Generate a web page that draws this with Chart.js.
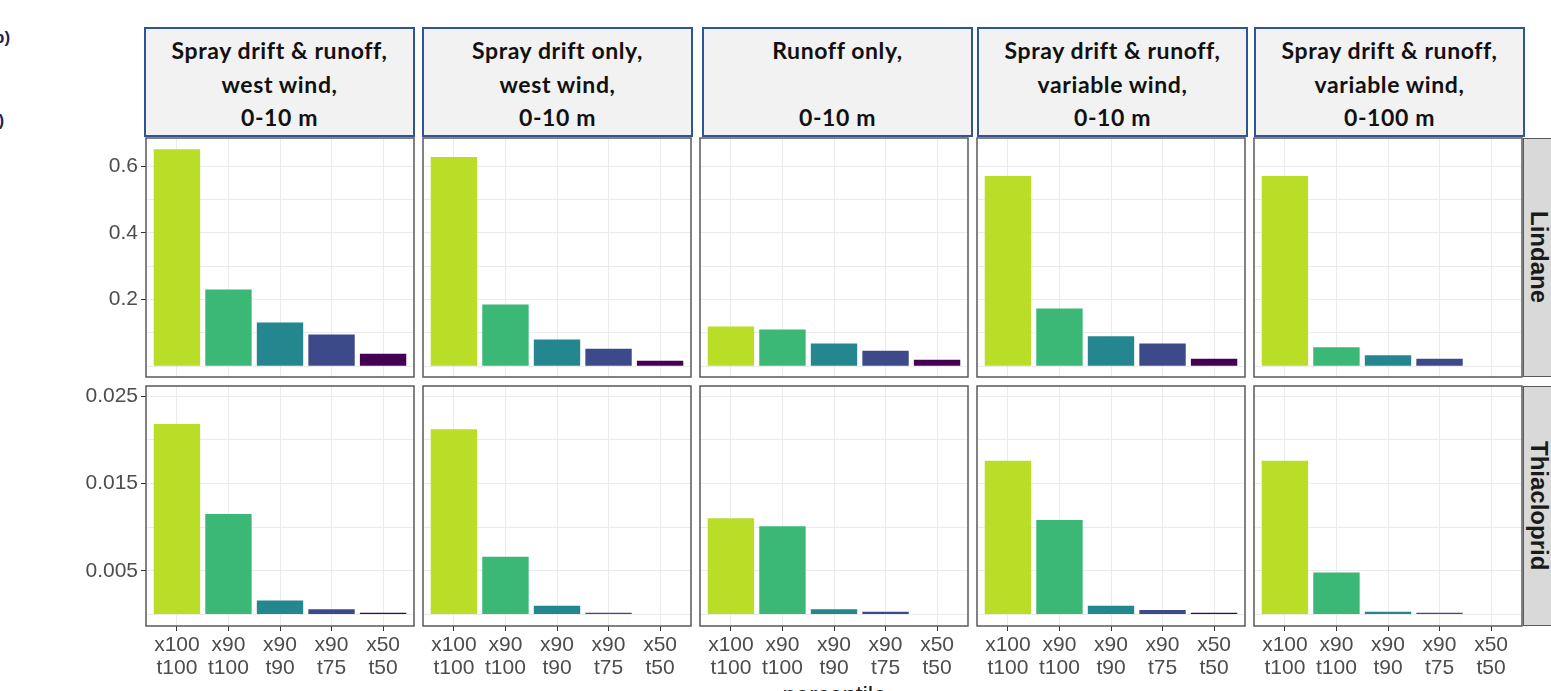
<!DOCTYPE html>
<html>
<head>
<meta charset="utf-8">
<script src="https://cdn.jsdelivr.net/npm/chart.js@4.4.1/dist/chart.umd.min.js"></script>
<style>
  html, body { margin: 0; padding: 0; background: #fff; }
  body { width: 1551px; height: 691px; position: relative; overflow: hidden; }
  canvas { position: absolute; }
  .header {
    position: absolute; top: 27px; width: 271px; height: 110px; box-sizing: border-box;
    border: 2px solid #2F5597; background: #F2F2F2; text-align: center;
    font: bold 23px Lato, 'Open Sans', sans-serif; letter-spacing: 0.6px; color: #111;
    line-height: 33.5px; padding-top: 5px;
  }
  .header div { height: 33.5px; white-space: nowrap; }
  .strip {
    position: absolute; left: 1523px; width: 40px; box-sizing: border-box;
    background: #D9D9D9; border: 1.5px solid #595959;
    display: flex; align-items: center; justify-content: flex-start;
  }
  .strip span {
    writing-mode: vertical-rl; font: bold 24px 'Liberation Sans', Arial, sans-serif; color: #1A1A1A;
    margin-left: 1px;
  }
  .tag { position: absolute; font: bold 17px 'Liberation Sans', Arial, sans-serif; color: #1F1F5F; }
  #xtitle {
    position: absolute; left: 146px; width: 1377px; top: 683px; text-align: center;
    font: 24px 'Liberation Sans', Arial, sans-serif; line-height: 24px; color: #1A1A1A;
  }
</style>
</head>
<body>
<div class="tag" style="left:-6px; top:28px;">b)</div>
<div class="tag" style="left:-11px; top:111px;">c)</div>
<div id="xtitle">percentile</div>
<script>
// categories (two-line tick labels)
const X_TOP = ['x100', 'x90', 'x90', 'x90', 'x50'];
const X_BOTTOM = ['t100', 't100', 't90', 't75', 't50'];
const BAR_COLORS = ['#BADE28', '#3BB876', '#24868E', '#3D4A89', '#440154'];

// facet headers
const SCENARIOS = [
  ['Spray drift & runoff,', 'west wind,', '0-10 m'],
  ['Spray drift only,', 'west wind,', '0-10 m'],
  ['Runoff only,', '', '0-10 m'],
  ['Spray drift & runoff,', 'variable wind,', '0-10 m'],
  ['Spray drift & runoff,', 'variable wind,', '0-100 m']
];
const COMPOUNDS = ['Lindane', 'Thiacloprid'];

// Lindane values, one array per scenario
const LINDANE_SD_RO_WEST = [0.650, 0.230, 0.131, 0.095, 0.038];
const LINDANE_SD_WEST = [0.627, 0.185, 0.080, 0.053, 0.017];
const LINDANE_RO = [0.119, 0.110, 0.068, 0.047, 0.020];
const LINDANE_SD_RO_VAR10 = [0.570, 0.173, 0.090, 0.068, 0.023];
const LINDANE_SD_RO_VAR100 = [0.570, 0.057, 0.033, 0.023, null];

// Thiacloprid values
const THIA_SD_RO_WEST = [0.0218, 0.0115, 0.0016, 0.0006, 0.0002];
const THIA_SD_WEST = [0.0212, 0.0066, 0.0010, 0.0002, null];
const THIA_RO = [0.0110, 0.0101, 0.0006, 0.0003, null];
const THIA_SD_RO_VAR10 = [0.0176, 0.0108, 0.0010, 0.0005, 0.0002];
const THIA_SD_RO_VAR100 = [0.0176, 0.0048, 0.0003, 0.0002, null];

// y axes
const LINDANE_RANGE = [-0.032, 0.684];
const LINDANE_GRID = [0, 0.1, 0.2, 0.3, 0.4, 0.5, 0.6];
const LINDANE_LABELLED = [0.2, 0.4, 0.6];
const THIA_RANGE = [-0.00133, 0.02615];
const THIA_GRID = [0, 0.005, 0.01, 0.015, 0.02, 0.025];
const THIA_LABELLED = [0.005, 0.015, 0.025];

const ROWS = [
  {values: [LINDANE_SD_RO_WEST, LINDANE_SD_WEST, LINDANE_RO, LINDANE_SD_RO_VAR10, LINDANE_SD_RO_VAR100],
   range: LINDANE_RANGE, grid: LINDANE_GRID, labelled: LINDANE_LABELLED},
  {values: [THIA_SD_RO_WEST, THIA_SD_WEST, THIA_RO, THIA_SD_RO_VAR10, THIA_SD_RO_VAR100],
   range: THIA_RANGE, grid: THIA_GRID, labelled: THIA_LABELLED}
];

// layout
const PANEL_LEFT = [146, 423, 700, 977, 1254];
const PANEL_W = 268;
const ROW_TOP = [138, 386];
const ROW_H = [239, 240];
const HEADER_LEFT = [144, 422, 702, 977, 1254];

const FONT = "'Liberation Sans', Arial, sans-serif";
const isIn = (arr, v) => arr.some(a => Math.abs(a - v) < 1e-9);

const panelBorder = {
  id: 'panelBorder',
  afterDraw(chart) {
    const a = chart.chartArea, c = chart.ctx;
    c.save();
    c.strokeStyle = '#595959';
    c.lineWidth = 1.5;
    c.strokeRect(a.left, a.top, a.right - a.left, a.bottom - a.top);
    c.restore();
  }
};

// no extra room for overhanging labels, the panels have fixed places
function noPadding(scale) {
  scale.paddingTop = 0;
  scale.paddingBottom = 0;
  scale.paddingLeft = 0;
  scale.paddingRight = 0;
}

SCENARIOS.forEach(function(lines, c) {
  var h = document.createElement('div');
  h.className = 'header';
  h.style.left = HEADER_LEFT[c] + 'px';
  lines.forEach(function(t) {
    var d = document.createElement('div');
    d.textContent = t;
    h.appendChild(d);
  });
  document.body.appendChild(h);
});

COMPOUNDS.forEach(function(name, r) {
  var s = document.createElement('div');
  s.className = 'strip';
  s.style.top = ROW_TOP[r] + 'px';
  s.style.height = ROW_H[r] + 'px';
  var sp = document.createElement('span');
  sp.textContent = name;
  s.appendChild(sp);
  document.body.appendChild(s);
});

ROWS.forEach(function(row, r) {
  for (let c = 0; c < 5; c++) {
    const padL = c === 0 ? 86 : 2;
    const padB = r === 1 ? 62 : 2;
    const cv = document.createElement('canvas');
    cv.width = PANEL_W + padL + 2;
    cv.height = ROW_H[r] + 2 + padB;
    cv.style.left = (PANEL_LEFT[c] - padL) + 'px';
    cv.style.top = (ROW_TOP[r] - 2) + 'px';
    document.body.appendChild(cv);

    const vals = row.values[c];
    new Chart(cv.getContext('2d'), {
      type: 'bar',
      data: {
        datasets: [{
          data: vals.map((v, i) => ({x: i + 1, y: v})),
          backgroundColor: BAR_COLORS,
          borderWidth: 0,
          barPercentage: 0.9,
          categoryPercentage: 1
        }]
      },
      options: {
        responsive: false,
        animation: false,
        devicePixelRatio: 1,
        layout: {padding: {left: c === 0 ? 0 : 2, right: 2, top: 2, bottom: r === 1 ? 0 : 2}},
        plugins: {legend: {display: false}, tooltip: {enabled: false}},
        scales: {
          x: {
            type: 'linear',
            offset: false,
            min: 0.4,
            max: 5.6,
            afterBuildTicks: function(scale) {
              scale.ticks = X_TOP.map((t, i) => ({value: i + 1}));
            },
            afterFit: function(scale) {
              scale.height = r === 1 ? 62 : 0;
              noPadding(scale);
            },
            border: {display: false},
            grid: {
              offset: false,
              color: '#EBEBEB',
              lineWidth: 1,
              drawTicks: r === 1,
              tickLength: 5,
              tickColor: '#333333'
            },
            ticks: {
              display: r === 1,
              autoSkip: false,
              maxRotation: 0,
              padding: 3,
              color: '#4D4D4D',
              font: {family: FONT, size: 21, lineHeight: 1.1},
              callback: function(value) {
                return [X_TOP[value - 1], X_BOTTOM[value - 1]];
              }
            }
          },
          y: {
            min: row.range[0],
            max: row.range[1],
            afterBuildTicks: function(scale) {
              scale.ticks = row.grid.map(v => ({value: v}));
            },
            afterFit: function(scale) {
              scale.width = c === 0 ? 86 : 0;
              noPadding(scale);
            },
            border: {display: false},
            grid: {
              color: '#EBEBEB',
              lineWidth: 1,
              drawTicks: c === 0,
              tickLength: 5,
              tickColor: ctx => isIn(row.labelled, ctx.tick.value) ? '#333333' : 'rgba(0,0,0,0)'
            },
            ticks: {
              display: c === 0,
              padding: 3,
              color: '#4D4D4D',
              font: {family: FONT, size: 21},
              callback: function(value) {
                return isIn(row.labelled, value) ? String(value) : '';
              }
            }
          }
        }
      },
      plugins: [panelBorder]
    });
  }
});
</script>
</body>
</html>
